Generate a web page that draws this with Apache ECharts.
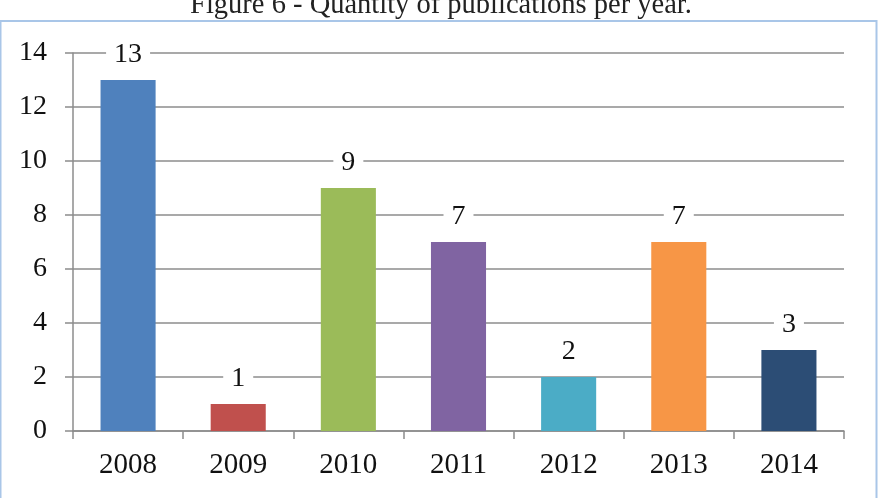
<!DOCTYPE html>
<html style="height: 100%">
<head>
    <meta charset="utf-8">
    <script src="https://cdn.jsdelivr.net/npm/echarts@6/dist/echarts.min.js"></script>
</head>
<body style="height: 100%; margin: 0; background: #fff">
<div id="chart_container" style="width: 882px; height: 498px"></div>
<script type="text/javascript">

    var years = ['2008', '2009', '2010', '2011', '2012', '2013', '2014'];
    var publications = [13, 1, 9, 7, 2, 7, 3];
    var barColors = ['#4F81BD', '#C0504D', '#9BBB59', '#8064A2', '#4BACC6', '#F79646', '#2C4D75'];
    var yTicks = [0, 2, 4, 6, 8, 10, 12, 14];

    var serif = '"Liberation Serif", "Times New Roman", serif';

    var chart = echarts.init(document.getElementById('chart_container'));

    var option = {
        animation: false,
        title: {
            text: 'Figure 6 - Quantity of publications per year.',
            left: 'center',
            top: -14,
            textStyle: {fontFamily: serif, fontSize: 28.5, fontWeight: 'normal', color: '#222'}
        },
        graphic: [{
            type: 'rect',
            shape: {x: 0.5, y: 21, width: 876, height: 500},
            style: {fill: 'none', stroke: '#a9c6e8', lineWidth: 2},
            silent: true
        }],
        grid: {left: 73, right: 38, top: 53, bottom: 67},
        xAxis: {
            type: 'category',
            data: years,
            axisLine: {lineStyle: {color: '#8c8c8c', width: 1.5}},
            axisTick: {show: true, length: 8, lineStyle: {color: '#8c8c8c', width: 1.5}},
            axisLabel: {fontFamily: serif, fontSize: 29, color: '#111', margin: 20}
        },
        yAxis: {
            type: 'value',
            min: yTicks[0],
            max: yTicks[yTicks.length - 1],
            interval: 2,
            axisLine: {show: true, lineStyle: {color: '#8c8c8c', width: 1.5}},
            axisTick: {show: true, length: 8, lineStyle: {color: '#8c8c8c', width: 1.5}},
            axisLabel: {fontFamily: serif, fontSize: 28, color: '#111', margin: 26},
            splitLine: {lineStyle: {color: '#8c8c8c', width: 1.5}}
        },
        series: [{
            type: 'bar',
            barWidth: '50%',
            data: publications.map(function (v, i) {
                return {value: v, itemStyle: {color: barColors[i]}};
            }),
            label: {
                show: true,
                position: 'top',
                distance: 11,
                fontFamily: serif,
                fontSize: 28,
                color: '#111',
                backgroundColor: '#fff',
                padding: [0, 8]
            }
        }]
    };

    chart.setOption(option);
</script>
</body>
</html>
